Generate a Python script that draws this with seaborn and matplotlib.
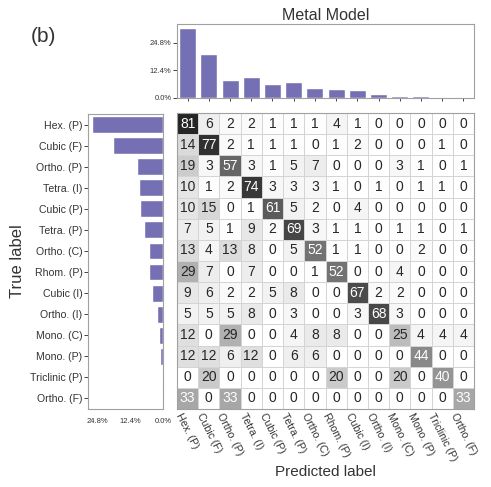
import numpy as np
import pandas as pd
import matplotlib
matplotlib.use('Agg')
import matplotlib.pyplot as plt
import seaborn as sns

# class labels (same order on both axes)
classes = ['Hex. (P)', 'Cubic (F)', 'Ortho. (P)', 'Tetra. (I)', 'Cubic (P)',
           'Tetra. (P)', 'Ortho. (C)', 'Rhom. (P)', 'Cubic (I)', 'Ortho. (I)',
           'Mono. (C)', 'Mono. (P)', 'Triclinic (P)', 'Ortho. (F)']

# share of each predicted class (%), top bars
pred_pct = [31.5, 19.6, 7.9, 9.5, 6.1, 7.2, 4.5, 4.0, 3.7, 1.7, 0.8, 0.7, 0.2, 0.1]

# share of each true class (%), left bars
true_pct = [26.9, 19.0, 9.7, 9.2, 8.6, 7.2, 5.3, 5.2, 4.2, 2.4, 1.5, 1.0, 0.4, 0.2]

# row-normalised confusion matrix (%)
cm_rows = [
    [81, 6, 2, 2, 1, 1, 1, 4, 1, 0, 0, 0, 0, 0],
    [14, 77, 2, 1, 1, 1, 0, 1, 2, 0, 0, 0, 1, 0],
    [19, 3, 57, 3, 1, 5, 7, 0, 0, 0, 3, 1, 0, 1],
    [10, 1, 2, 74, 3, 3, 3, 1, 0, 1, 0, 1, 1, 0],
    [10, 15, 0, 1, 61, 5, 2, 0, 4, 0, 0, 0, 0, 0],
    [7, 5, 1, 9, 2, 69, 3, 1, 1, 0, 1, 1, 0, 1],
    [13, 4, 13, 8, 0, 5, 52, 1, 1, 0, 0, 2, 0, 0],
    [29, 7, 0, 7, 0, 0, 1, 52, 0, 0, 4, 0, 0, 0],
    [9, 6, 2, 2, 5, 8, 0, 0, 67, 2, 2, 0, 0, 0],
    [5, 5, 5, 8, 0, 3, 0, 0, 3, 68, 3, 0, 0, 0],
    [12, 0, 29, 0, 0, 4, 8, 8, 0, 0, 25, 4, 4, 4],
    [12, 12, 6, 12, 0, 6, 6, 0, 0, 0, 0, 44, 0, 0],
    [0, 20, 0, 0, 0, 0, 0, 20, 0, 0, 20, 0, 40, 0],
    [33, 0, 33, 0, 0, 0, 0, 0, 0, 0, 0, 0, 0, 33],
]

bar_color = '#7570b3'
spine_color = '#a0a0a0'
text_color = '#333333'

sns.set_style('white')
plt.rcParams['font.family'] = ['Liberation Sans', 'DejaVu Sans']

W, H = 491, 487
fig = plt.figure(figsize=(W / 100, H / 100), dpi=100)


def box(x0, y0, x1, y1):
    # pixel box -> figure fraction rect
    return [x0 / W, 1 - y1 / H, (x1 - x0) / W, (y1 - y0) / H]


ax_hm = fig.add_axes(box(177, 113, 474, 409))
ax_top = fig.add_axes(box(177, 24, 474, 98))
ax_left = fig.add_axes(box(88, 114, 163, 409))

# confusion matrix
cm = pd.DataFrame(np.array(cm_rows), index=classes, columns=classes)
sns.heatmap(cm, ax=ax_hm, annot=True, fmt='d', cmap='gray_r', vmin=0, vmax=95,
            cbar=False, linewidths=0.5, linecolor='#d4d4d4',
            annot_kws={'size': 10})
ax_hm.set_yticks([])
ax_hm.set_ylabel('')
ax_hm.set_xticklabels(classes, rotation=-63, ha='center', va='top',
                      fontsize=7.6, color=text_color)
ax_hm.tick_params(axis='x', length=0, pad=2)
ax_hm.set_xlabel('Predicted label', fontsize=11, color=text_color)
ax_hm.xaxis.set_label_coords(0.5, -0.19)
for s in ax_hm.spines.values():
    s.set_visible(True)
    s.set_color(spine_color)
    s.set_linewidth(0.8)

# top bars: predicted distribution
sns.barplot(x=classes, y=pred_pct, ax=ax_top, color=bar_color, saturation=1,
            width=0.8)
ax_top.set_xlim(-0.5, len(classes) - 0.5)
ax_top.set_yticks([0, 12.4, 24.8])
ax_top.set_yticklabels(['0.0%', '12.4%', '24.8%'], fontsize=5.5, color=text_color)
ax_top.tick_params(axis='x', labelbottom=False, bottom=True, length=2, width=0.6)
ax_top.tick_params(axis='y', left=True, length=3, width=0.6, pad=1)
ax_top.set_title('Metal Model', fontsize=11.5, color=text_color, pad=3)

# left bars: true distribution
sns.barplot(x=true_pct, y=classes, ax=ax_left, color=bar_color, saturation=1,
            orient='h', width=0.8)
ax_left.set_ylim(len(classes) - 0.5, -0.5)
ax_left.set_xlim(max(true_pct) * 1.05, 0)
ax_left.set_xticks([24.8, 12.4, 0])
ax_left.set_xticklabels(['24.8%', '12.4%', '0.0%'], fontsize=5.5, color=text_color)
ax_left.set_yticklabels(classes, fontsize=7.6, color=text_color)
ax_left.tick_params(axis='y', left=True, length=3, width=0.6, pad=1)
ax_left.tick_params(axis='x', bottom=False, pad=3)
ax_left.set_ylabel('True label', fontsize=12, color=text_color)
ax_left.yaxis.set_label_coords(-0.84, 0.5)
ax_left.set_xlabel('')

for ax in (ax_top, ax_left):
    for s in ax.spines.values():
        s.set_visible(True)
        s.set_color(spine_color)
        s.set_linewidth(0.8)

fig.text(0.062, 0.926, '(b)', fontsize=15, color=text_color, va='center')

fig.savefig('out.png', dpi=100)
